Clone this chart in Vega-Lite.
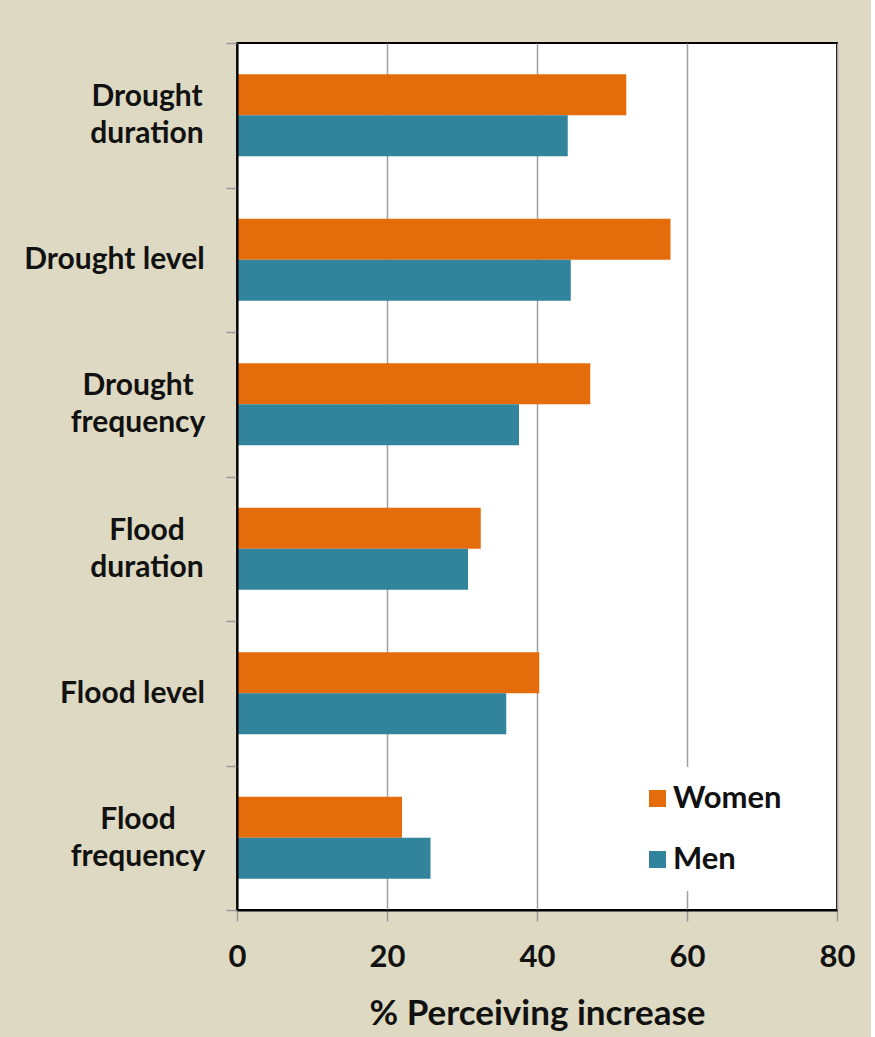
{
  "$schema": "https://vega.github.io/schema/vega-lite/v6.json",
  "autosize": "none",
  "width": 600,
  "height": 867,
  "padding": {"left": 237, "top": 43, "right": 34, "bottom": 127},
  "background": "#DDD9C3",
  "config": {
    "view": {"fill": "white", "stroke": "black", "strokeWidth": 2},
    "font": "Lato"
  },
  "data": {
    "values": [
      {"Category": "Drought duration", "Group": "Women", "Percent": 51.9},
      {"Category": "Drought duration", "Group": "Men", "Percent": 44.1},
      {"Category": "Drought level", "Group": "Women", "Percent": 57.8},
      {"Category": "Drought level", "Group": "Men", "Percent": 44.5},
      {"Category": "Drought frequency", "Group": "Women", "Percent": 47.1},
      {"Category": "Drought frequency", "Group": "Men", "Percent": 37.6},
      {"Category": "Flood duration", "Group": "Women", "Percent": 32.5},
      {"Category": "Flood duration", "Group": "Men", "Percent": 30.8},
      {"Category": "Flood level", "Group": "Women", "Percent": 40.3},
      {"Category": "Flood level", "Group": "Men", "Percent": 35.9},
      {"Category": "Flood frequency", "Group": "Women", "Percent": 22.0},
      {"Category": "Flood frequency", "Group": "Men", "Percent": 25.8}
    ]
  },
  "mark": {"type": "bar"},
  "encoding": {
    "y": {
      "field": "Category",
      "type": "nominal",
      "sort": ["Drought duration", "Drought level", "Drought frequency", "Flood duration", "Flood level", "Flood frequency"],
      "scale": {"paddingInner": 0, "paddingOuter": 0},
      "axis": {
        "title": null,
        "zindex": 1,
        "tickBand": "extent",
        "tickColor": "#999999",
        "tickSize": 11,
        "tickWidth": 1.5,
        "domainColor": "black",
        "domainWidth": 2,
        "grid": false,
        "labelFont": "Lato",
        "labelFontWeight": "bold",
        "labelFontSize": 30,
        "labelColor": "#111111",
        "labelAlign": "center",
        "labelBaseline": "middle",
        "labelLineHeight": 37,
        "labelLimit": 400,
        "labelExpr": "datum.value == 'Drought level' || datum.value == 'Flood level' ? datum.label : split(datum.label, ' ')",
        "labelPadding": {
          "condition": [
            {"test": "datum.value == 'Drought level'", "value": 112},
            {"test": "datum.value == 'Flood level'", "value": 94},
            {"test": "datum.value == 'Drought frequency' || datum.value == 'Flood frequency'", "value": 88.5}
          ],
          "value": 79.5
        },
        "labelOffset": {
          "condition": {"test": "datum.value == 'Drought level' || datum.value == 'Flood level'", "value": 0},
          "value": -18.5
        }
      }
    },
    "yOffset": {"field": "Group", "sort": ["Women", "Men"], "scale": {"paddingInner": 0, "paddingOuter": 0.76}},
    "x": {
      "field": "Percent",
      "type": "quantitative",
      "scale": {"domain": [0, 80], "nice": false},
      "axis": {
        "title": "% Perceiving increase",
        "values": [0, 20, 40, 60, 80],
        "grid": true,
        "gridColor": "#A0A0A0",
        "gridWidth": 1.5,
        "tickColor": "#999999",
        "tickSize": 11,
        "tickWidth": 1.5,
        "domainColor": "black",
        "domainWidth": 2,
        "labelFlush": false,
        "labelFont": "Lato",
        "labelFontSize": 31,
        "labelFontWeight": "bold",
        "labelColor": "#111111",
        "labelPadding": 21,
        "titleFont": "Lato",
        "titleFontSize": 35,
        "titleFontWeight": "bold",
        "titleColor": "#111111",
        "titlePadding": 24
      }
    },
    "color": {
      "field": "Group",
      "type": "nominal",
      "scale": {"domain": ["Women", "Men"], "range": ["#E46C0A", "#31849B"]},
      "legend": {
        "title": null,
        "orient": "none",
        "legendX": 389,
        "legendY": 724,
        "fillColor": "white",
        "strokeColor": null,
        "padding": 16,
        "symbolType": "square",
        "symbolSize": 289,
        "symbolStrokeWidth": 0,
        "labelFont": "Lato",
        "labelFontSize": 31,
        "labelFontWeight": "bold",
        "labelColor": "#111111",
        "labelOffset": 0,
        "rowPadding": 29
      }
    }
  }
}
